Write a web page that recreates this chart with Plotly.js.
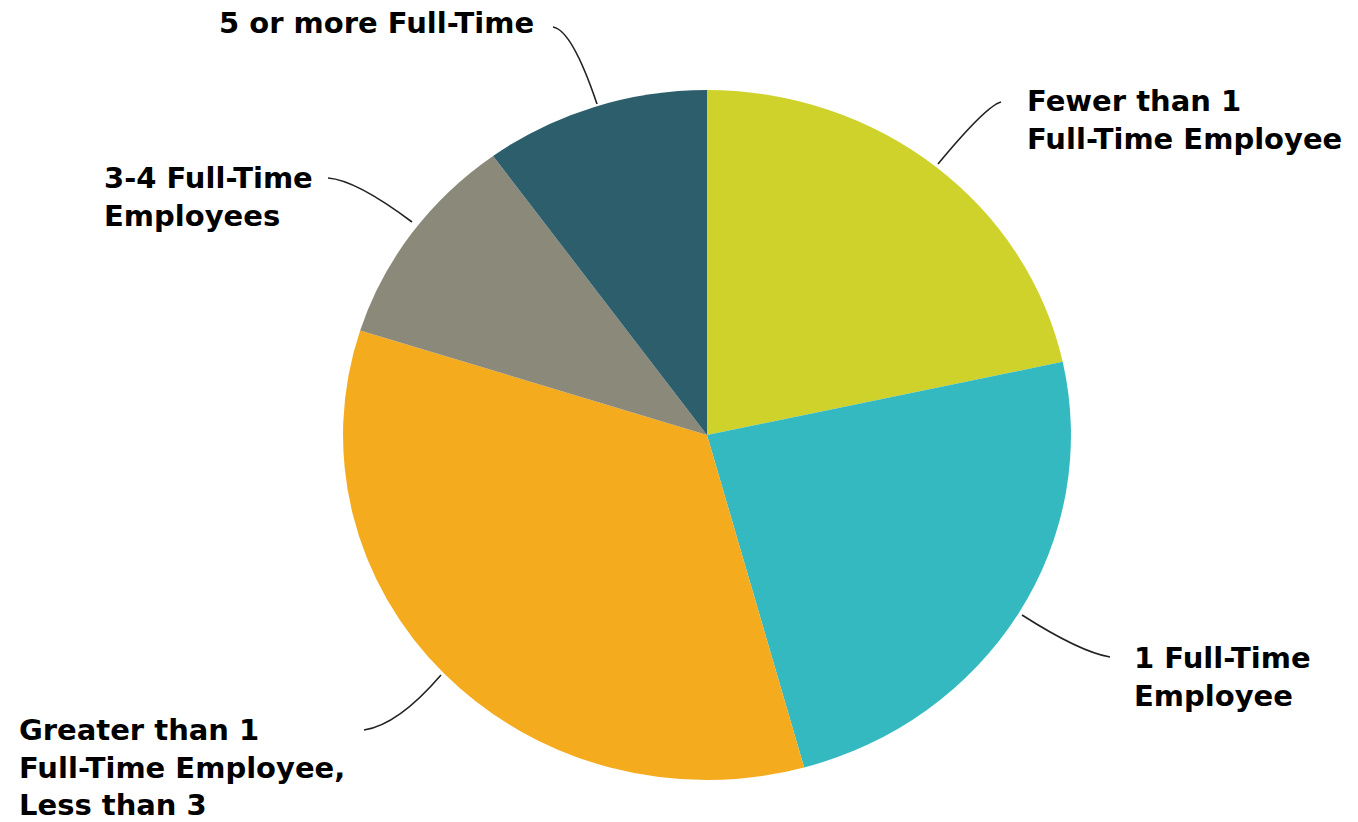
<!DOCTYPE html>
<html>
<head>
<meta charset="utf-8">
<script src="https://cdn.plot.ly/plotly-3.0.1.min.js"></script>
<style>
  html, body { margin: 0; padding: 0; background: #ffffff; }
  #chart { width: 1358px; height: 822px; }
</style>
</head>
<body>
<div id="chart"></div>
<script>
// ---- data ----
const categories = [
  "Fewer than 1 Full-Time Employee",
  "1 Full-Time Employee",
  "Greater than 1 Full-Time Employee, Less than 3",
  "3-4 Full-Time Employees",
  "5 or more Full-Time"
];
const shares = [21.6, 24.1, 34.2, 10.1, 10.0];
const sliceColors = ["#cfd22a", "#34b9c1", "#f5ab1e", "#8b897a", "#2c5e6c"];
const labelTexts = [
  "Fewer than 1<br>Full-Time Employee",
  "1 Full-Time<br>Employee",
  "Greater than 1<br>Full-Time Employee,<br>Less than 3",
  "3-4 Full-Time<br>Employees",
  "5 or more Full-Time"
];

// ---- layout helpers (pixel -> paper) ----
const W = 1358, H = 822;
const px = x => x / W;
const py = y => 1 - y / H;

// label anchor positions (left edge, vertical centre) in pixels
const labelPos = [
  [1025, 120],
  [1132, 677],
  [17, 767],
  [102, 197],
  [217, 23]
];
// leader lines: start, control, end (pixels)
const leaders = [
  [[938, 164], [986, 106], [1001, 102]],
  [[1022, 615], [1080, 652], [1110, 657]],
  [[441, 675], [398, 725], [364, 730]],
  [[412, 222], [356, 180], [328, 178]],
  [[597, 104], [572, 30], [553, 27]]
];

const trace = {
  type: "pie",
  labels: categories,
  values: shares,
  sort: false,
  direction: "clockwise",
  rotation: 0,
  textinfo: "none",
  hoverinfo: "label+percent",
  marker: { colors: sliceColors, line: { width: 0 } },
  domain: { x: [px(362), px(1052)], y: [py(780), py(90)] },
  showlegend: false
};

const annotations = labelTexts.map((t, i) => ({
  xref: "paper", yref: "paper",
  x: px(labelPos[i][0]), y: py(labelPos[i][1]),
  xanchor: "left", yanchor: "middle",
  align: "left",
  showarrow: false,
  text: "<b>" + t + "</b>",
  font: { family: "DejaVu Sans, Arial, sans-serif", size: 29, color: "#000000" }
}));

const shapes = leaders.map(l => ({
  type: "path",
  xref: "paper", yref: "paper",
  path: `M ${px(l[0][0])},${py(l[0][1])} Q ${px(l[1][0])},${py(l[1][1])} ${px(l[2][0])},${py(l[2][1])}`,
  line: { color: "#222222", width: 1.6 }
}));

const layout = {
  width: W, height: H,
  margin: { l: 0, r: 0, t: 0, b: 0 },
  paper_bgcolor: "#ffffff",
  annotations: annotations,
  shapes: shapes
};

Plotly.newPlot("chart", [trace], layout, { displayModeBar: false, staticPlot: true }).then(() => {
  // the reference pie is slightly wider than tall
  const cx = (px(362) + px(1052)) / 2 * W;
  const g = document.querySelector(".pielayer");
  if (g) g.setAttribute("transform", `translate(${cx},0) scale(1.055,1) translate(${-cx},0)`);
});
</script>
</body>
</html>
